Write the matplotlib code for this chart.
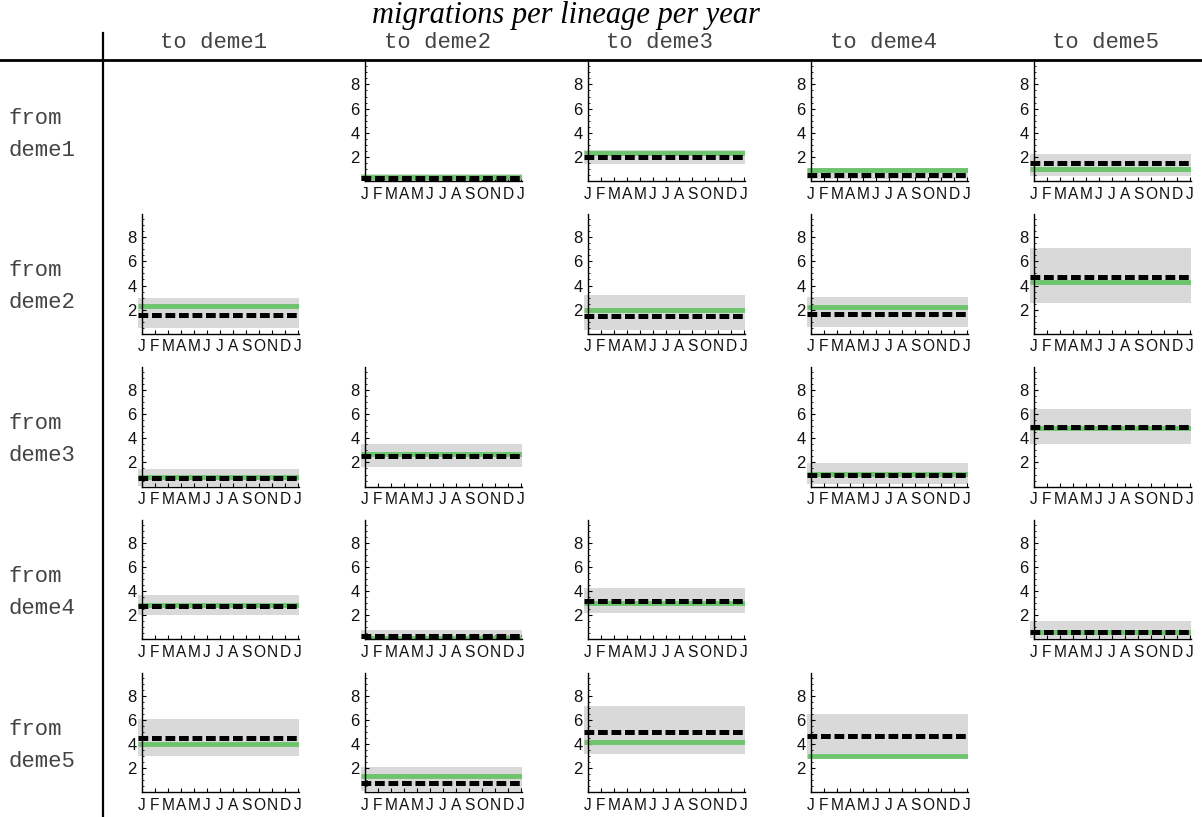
import matplotlib.pyplot as plt
from matplotlib.lines import Line2D
from matplotlib.ticker import MultipleLocator
import numpy as np

W, H = 1202, 817

demes = ['deme1', 'deme2', 'deme3', 'deme4', 'deme5']
months = ['J', 'F', 'M', 'A', 'M', 'J', 'J', 'A', 'S', 'O', 'N', 'D', 'J']

nan = np.nan
# rows = from deme, columns = to deme
true_rate = np.array([
    [nan, 0.30, 2.30, 0.94, 0.97],
    [2.30, nan, 1.95, 2.23, 4.32],
    [0.83, 2.73, nan, 1.05, 4.82],
    [2.87, 0.10, 3.04, nan, 0.64],
    [4.02, 1.32, 4.18, 3.00, nan],
])
est_rate = np.array([
    [nan, 0.28, 2.00, 0.50, 1.50],
    [1.58, nan, 1.47, 1.67, 4.71],
    [0.69, 2.56, nan, 0.94, 4.96],
    [2.79, 0.30, 3.18, nan, 0.58],
    [4.48, 0.77, 5.00, 4.65, nan],
])
hpd_low = np.array([
    [nan, 0.00, 1.40, 0.15, 0.40],
    [0.50, nan, 0.33, 0.55, 2.59],
    [0.08, 1.65, nan, 0.22, 3.53],
    [2.00, 0.00, 2.21, nan, 0.14],
    [2.97, 0.08, 3.16, 3.16, nan],
])
hpd_high = np.array([
    [nan, 0.60, 2.60, 1.05, 2.20],
    [3.00, nan, 3.20, 3.06, 7.10],
    [1.43, 3.50, nan, 1.96, 6.47],
    [3.65, 0.80, 4.23, nan, 1.52],
    [6.08, 2.09, 7.13, 6.47, nan],
])

plt.rcParams['font.family'] = 'Liberation Sans'
fig = plt.figure(figsize=(W / 100, H / 100), dpi=100)

px_month = 13.03
px_unit = 12.07
xlo, xhi = -0.35, 12.05
ytop = 9.9

for r in range(5):
    for c in range(5):
        if r == c:
            continue
        x0 = 141.7 + 223 * c
        y0 = 181 + 152.8 * r
        left = x0 + xlo * px_month
        width = (xhi - xlo) * px_month
        height = ytop * px_unit
        ax = fig.add_axes([left / W, 1 - y0 / H, width / W, height / H])
        xs = [-0.3, 12.05]
        ax.fill_between(xs, hpd_low[r, c], hpd_high[r, c], color='#d9d9d9', lw=0)
        ax.plot(xs, [true_rate[r, c]] * 2, color='#6cc46c', lw=3.5, solid_capstyle='butt')
        ax.plot(xs, [est_rate[r, c]] * 2, color='black', lw=3.6, dashes=(1.95, 0.75))
        ax.set_xlim(xlo, xhi)
        ax.set_ylim(0, ytop)
        for s in ['top', 'right']:
            ax.spines[s].set_visible(False)
        ax.spines['left'].set_position(('data', 0))
        ax.spines['bottom'].set_bounds(0, xhi)
        ax.spines['left'].set_linewidth(1.0)
        ax.spines['bottom'].set_linewidth(1.0)
        ax.set_xticks(range(13))
        ax.set_xticklabels(months)
        ax.set_yticks([2, 4, 6, 8])
        ax.yaxis.set_minor_locator(MultipleLocator(0.5))
        ax.tick_params(axis='both', direction='in', length=3, width=0.8, labelcolor='#111111')
        ax.tick_params(axis='x', pad=4, labelsize=11.2)
        ax.tick_params(axis='y', pad=3.5, labelsize=12)
        ax.tick_params(axis='y', which='minor', direction='in', length=1.5, width=0.6)
        ax.patch.set_alpha(0)

for c, d in enumerate(demes):
    fig.text((214 + 223 * c) / W, 1 - 43 / H, 'to ' + d, family='Liberation Mono',
             fontsize=16, color='#444444', ha='center', va='center')
for r, d in enumerate(demes):
    y = 118 + 152.8 * r
    fig.text(9 / W, 1 - y / H, 'from', family='Liberation Mono',
             fontsize=16, color='#444444', ha='left', va='center')
    fig.text(9 / W, 1 - (y + 32) / H, d, family='Liberation Mono',
             fontsize=16, color='#444444', ha='left', va='center')

fig.text(566 / W, 1 - 16 / H, 'migrations per lineage per year', family='Liberation Serif',
         style='italic', fontsize=22, ha='center', va='center')

fig.add_artist(Line2D([0, 1], [1 - 60 / H] * 2, transform=fig.transFigure, color='black', lw=2))
fig.add_artist(Line2D([103 / W] * 2, [1 - 33 / H, 0], transform=fig.transFigure, color='black', lw=1.6))

fig.savefig('out.png', dpi=100)
